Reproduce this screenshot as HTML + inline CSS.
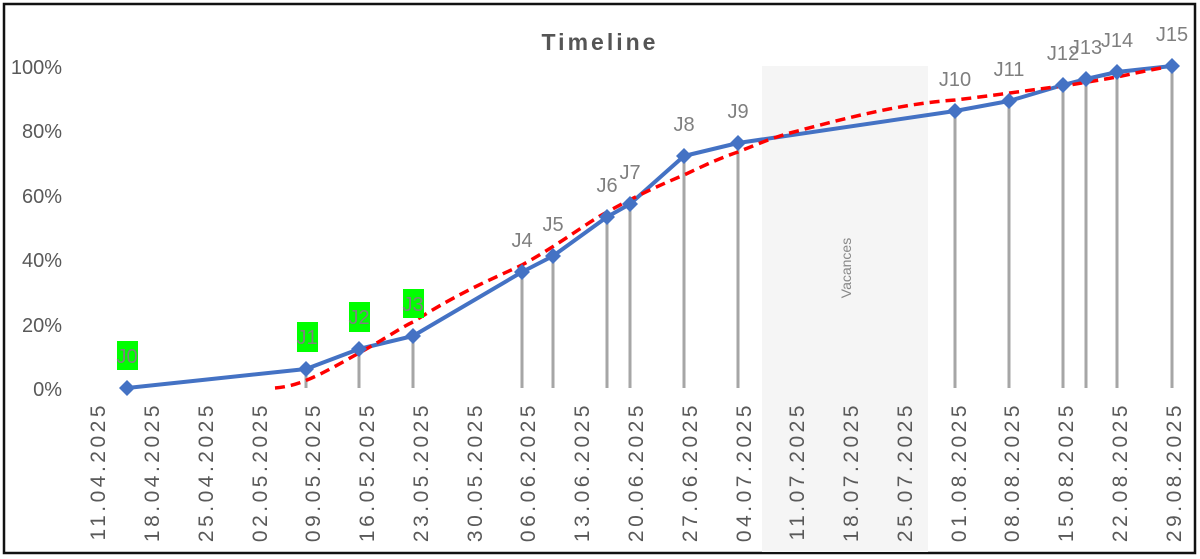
<!DOCTYPE html>
<html><head><meta charset="utf-8"><style>
html,body{margin:0;padding:0;background:#fff;}
svg{display:block;font-family:"Liberation Sans",sans-serif;}
</style></head><body>
<svg width="1200" height="559" viewBox="0 0 1200 559">
<rect x="0" y="0" width="1200" height="559" fill="#fff"/>
<rect x="4" y="4" width="1191" height="549" fill="none" stroke="#111" stroke-width="2.5"/>
<rect x="762" y="66" width="166" height="486" fill="#f5f5f5"/>
<text x="851" y="268" font-size="14" fill="#888" transform="rotate(-90 851 268)" text-anchor="middle">Vacances</text>
<text x="600" y="50" font-size="23" font-weight="bold" fill="#555" text-anchor="middle" letter-spacing="3">Timeline</text>
<g font-size="20" fill="#595959" text-anchor="end">
<text x="62" y="74">100%</text><text x="62" y="138">80%</text><text x="62" y="203">60%</text>
<text x="62" y="267">40%</text><text x="62" y="332">20%</text><text x="62" y="396">0%</text>
</g>
<g stroke="#a6a6a6" stroke-width="3">
<line x1="306" y1="369" x2="306" y2="388"/><line x1="359" y1="349" x2="359" y2="388"/>
<line x1="413" y1="336" x2="413" y2="388"/><line x1="522" y1="272" x2="522" y2="388"/>
<line x1="553" y1="256" x2="553" y2="388"/><line x1="607" y1="217" x2="607" y2="388"/>
<line x1="630" y1="204" x2="630" y2="388"/><line x1="684" y1="156" x2="684" y2="388"/>
<line x1="738" y1="143" x2="738" y2="388"/><line x1="955" y1="111" x2="955" y2="388"/>
<line x1="1009" y1="101" x2="1009" y2="388"/><line x1="1063" y1="85" x2="1063" y2="388"/>
<line x1="1086" y1="79" x2="1086" y2="388"/><line x1="1117" y1="72" x2="1117" y2="388"/>
<line x1="1172" y1="66" x2="1172" y2="388"/>
</g>
<polyline fill="none" stroke="#4472c4" stroke-width="4" stroke-linejoin="round" points="127,388 306,369 359,349 413,336 522,272 553,256 607,217 630,204 684,156 738,143 955,111 1009,101 1063,85 1086,79 1117,72 1172,66"/>
<path d="M275,388 C300,386 320,375 359,353 C390,336 400,328 413,322 C460,292 490,280 522,265 C560,244 585,224 607,212 C640,194 660,185 684,175 C705,165 720,158 738,152 C760,143 775,137 790,133 C850,117 900,104 955,100 C990,96 1030,90 1063,86 C1090,82 1110,78 1117,77 C1140,72 1160,68 1172,66" fill="none" stroke="#ff0000" stroke-width="3.5" stroke-dasharray="10,6"/>
<g fill="#4472c4">
<polygon points="127,380 135,388 127,396 119,388"/><polygon points="306,361 314,369 306,377 298,369"/>
<polygon points="359,341 367,349 359,357 351,349"/><polygon points="413,328 421,336 413,344 405,336"/>
<polygon points="522,264 530,272 522,280 514,272"/><polygon points="553,248 561,256 553,264 545,256"/>
<polygon points="607,209 615,217 607,225 599,217"/><polygon points="630,196 638,204 630,212 622,204"/>
<polygon points="684,148 692,156 684,164 676,156"/><polygon points="738,135 746,143 738,151 730,143"/>
<polygon points="955,103 963,111 955,119 947,111"/><polygon points="1009,93 1017,101 1009,109 1001,101"/>
<polygon points="1063,77 1071,85 1063,93 1055,85"/><polygon points="1086,71 1094,79 1086,87 1078,79"/>
<polygon points="1117,64 1125,72 1117,80 1109,72"/><polygon points="1172,58 1180,66 1172,74 1164,66"/>
</g>
<g fill="#00ff00">
<rect x="117" y="341" width="21" height="29"/><rect x="297" y="322" width="21" height="30"/>
<rect x="349" y="302" width="21" height="30"/><rect x="403" y="289" width="21" height="29"/>
</g>
<g font-size="20" fill="#7f7f7f" text-anchor="middle">
<text x="127" y="363">J0</text><text x="307" y="344">J1</text><text x="359" y="324">J2</text><text x="413" y="311">J3</text>
<text x="522" y="247">J4</text><text x="553" y="231">J5</text><text x="607" y="192">J6</text><text x="630" y="179">J7</text>
<text x="684" y="131">J8</text><text x="738" y="118">J9</text><text x="955" y="86">J10</text><text x="1009" y="76">J11</text>
<text x="1063" y="60">J12</text><text x="1086" y="54">J13</text><text x="1117" y="47">J14</text><text x="1172" y="41">J15</text>
</g>
<g font-size="21" fill="#595959" text-anchor="end" letter-spacing="3.5">
<text transform="translate(105,402) rotate(-90)">11.04.2025</text>
<text transform="translate(159,402) rotate(-90)">18.04.2025</text>
<text transform="translate(213,402) rotate(-90)">25.04.2025</text>
<text transform="translate(267,402) rotate(-90)">02.05.2025</text>
<text transform="translate(320,402) rotate(-90)">09.05.2025</text>
<text transform="translate(374,402) rotate(-90)">16.05.2025</text>
<text transform="translate(428,402) rotate(-90)">23.05.2025</text>
<text transform="translate(482,402) rotate(-90)">30.05.2025</text>
<text transform="translate(535,402) rotate(-90)">06.06.2025</text>
<text transform="translate(589,402) rotate(-90)">13.06.2025</text>
<text transform="translate(643,402) rotate(-90)">20.06.2025</text>
<text transform="translate(697,402) rotate(-90)">27.06.2025</text>
<text transform="translate(751,402) rotate(-90)">04.07.2025</text>
<text transform="translate(804,402) rotate(-90)">11.07.2025</text>
<text transform="translate(858,402) rotate(-90)">18.07.2025</text>
<text transform="translate(912,402) rotate(-90)">25.07.2025</text>
<text transform="translate(966,402) rotate(-90)">01.08.2025</text>
<text transform="translate(1019,402) rotate(-90)">08.08.2025</text>
<text transform="translate(1073,402) rotate(-90)">15.08.2025</text>
<text transform="translate(1127,402) rotate(-90)">22.08.2025</text>
<text transform="translate(1181,402) rotate(-90)">29.08.2025</text>
</g>
</svg>
</body></html>
